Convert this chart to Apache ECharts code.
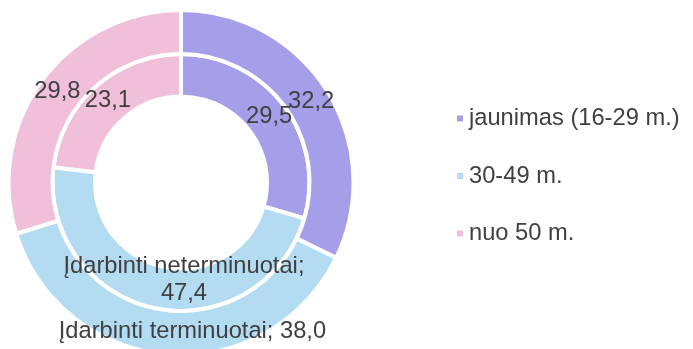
<!DOCTYPE html>
<html>
<head>
<meta charset="utf-8">
<style>
  html, body { margin: 0; padding: 0; background: #ffffff; }
  #chart { width: 693px; height: 349px; }
</style>
<script src="https://cdn.jsdelivr.net/npm/echarts@6/dist/echarts.min.js"></script>
</head>
<body>
<div id="chart"></div>
<script>
// Age groups (legend entries), shared by both rings
const ageGroups = ['jaunimas (16-29 m.)', '30-49 m.', 'nuo 50 m.'];
const groupColors = ['#A59FEA', '#B3DCF3', '#F0BFD9'];

// Inner ring: permanently employed, shares in %
const innerName = 'Įdarbinti neterminuotai';
const innerValues = [29.5, 47.4, 23.1];

// Outer ring: fixed-term employed, shares in %
const outerName = 'Įdarbinti terminuotai';
const outerValues = [32.2, 38.0, 29.8];

const textColor = '#404040';
const fontFamily = '"Liberation Sans", Arial, sans-serif';
const fontSize = 23.7;

function fmt(v) {
  return v.toFixed(1).replace('.', ',');
}

function buildData(values) {
  return values.map((v, i) => ({
    name: ageGroups[i],
    value: v,
    itemStyle: { color: groupColors[i] }
  }));
}

// Small nudges for the labels that carry the series name
const innerShift = { 1: [25, -11] };
const outerShift = { 1: [23, -4] };

const chart = echarts.init(document.getElementById('chart'), null, { renderer: 'canvas' });

const baseSeries = {
  type: 'pie',
  center: [181, 182.5],
  startAngle: 90,
  clockwise: true,
  silent: true,
  itemStyle: { borderColor: '#ffffff', borderWidth: 4 },
  labelLine: { show: false },
  emphasis: { disabled: true }
};

chart.setOption({
  animation: false,
  color: groupColors,
  legend: {
    orient: 'vertical',
    left: 455,
    top: 106.5,
    padding: 0,
    itemWidth: 8,
    itemHeight: 8,
    itemGap: 33.5,
    itemTextGap: 8,
    icon: 'rect',
    data: ageGroups,
    selectedMode: false,
    textStyle: { color: textColor, fontSize: fontSize, fontFamily: fontFamily }
  },
  series: [
    Object.assign({}, baseSeries, {
      name: innerName,
      radius: [86, 128.5],
      data: buildData(innerValues),
      label: {
        show: true,
        position: 'inside',
        color: textColor,
        fontSize: fontSize,
        fontFamily: fontFamily,
        lineHeight: 27,
        formatter: p => p.dataIndex === 1
          ? p.seriesName + ';\n' + fmt(p.value)
          : fmt(p.value)
      },
      labelLayout: p => {
        const s = innerShift[p.dataIndex];
        return s ? { dx: s[0], dy: s[1] } : {};
      }
    }),
    Object.assign({}, baseSeries, {
      name: outerName,
      radius: [128.5, 172.5],
      data: buildData(outerValues),
      label: {
        show: true,
        position: 'inside',
        color: textColor,
        fontSize: fontSize,
        fontFamily: fontFamily,
        formatter: p => p.dataIndex === 1
          ? p.seriesName + '; ' + fmt(p.value)
          : fmt(p.value)
      },
      labelLayout: p => {
        const s = outerShift[p.dataIndex];
        return s ? { dx: s[0], dy: s[1] } : {};
      }
    })
  ]
});
</script>
</body>
</html>
